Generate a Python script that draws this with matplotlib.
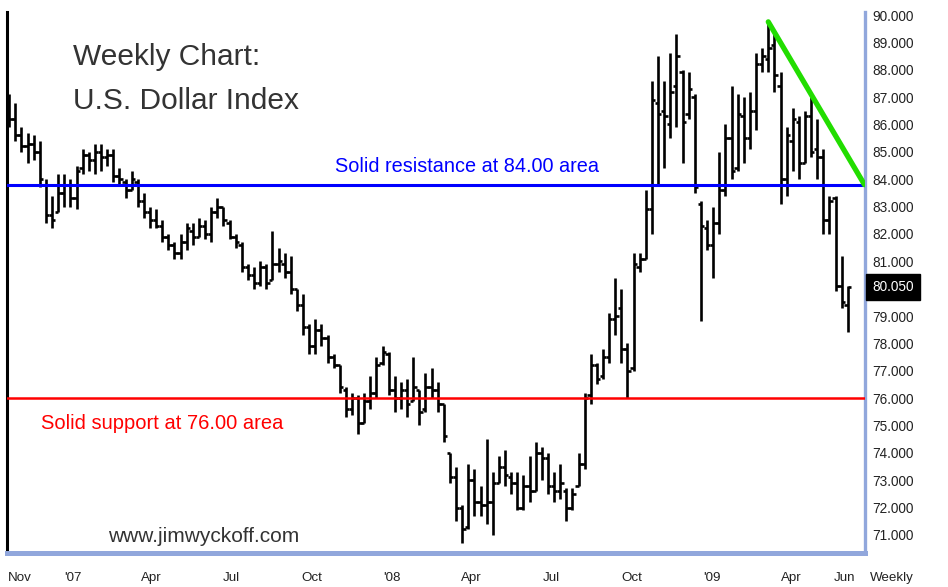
import numpy as np
import matplotlib.pyplot as plt

# weekly bars, first bar is the week of 20 Oct 2006
first_week = np.datetime64("2006-10-20")

opens = [86.9, 86.2, 85.6, 85.2, 85.3, 85.0, 83.8, 82.7, 82.8, 83.5,
         83.8, 83.3, 84.4, 84.9, 84.7, 85.0, 84.8, 84.9, 84.1, 83.9,
         83.6, 83.9, 83.2, 82.8, 82.5, 82.3, 81.9, 81.6, 81.3, 81.7,
         82.1, 81.9, 82.3, 82.0, 82.8, 83.0, 82.4, 81.9, 81.6, 80.8,
         80.5, 80.2, 80.8, 80.3, 80.9, 80.9, 80.6, 80.0, 79.4, 78.6,
         77.9, 78.5, 78.2, 77.5, 77.2, 76.3, 75.6, 76.0, 75.1, 75.9,
         76.2, 77.3, 77.6, 76.3, 76.0, 76.3, 75.9, 76.3, 75.6, 76.4,
         76.3, 75.8, 74.0, 73.1, 72.0, 71.3, 73.0, 72.2, 72.1, 72.2,
         72.9, 73.5, 73.1, 72.9, 72.0, 72.8, 72.6, 74.0, 73.8, 72.8,
         72.6, 72.6, 72.0, 72.8, 73.6, 76.1, 77.2, 76.8, 77.5, 78.9,
         79.3, 77.8, 77.1, 80.8, 81.1, 82.9, 86.8, 86.5, 86.0, 87.4,
         87.9, 86.4, 87.0, 83.1, 82.2, 81.6, 82.4, 83.6, 85.5, 84.4,
         86.3, 85.5, 86.5, 88.2, 88.4, 88.9, 87.4, 84.0, 85.4, 86.1,
         84.6, 86.3, 85.1, 84.8, 82.5, 83.3, 80.1, 79.4]
highs = [87.1, 86.8, 85.9, 85.7, 85.6, 85.4, 84.0, 83.4, 84.2, 84.2,
         84.0, 84.5, 85.1, 85.0, 85.3, 85.3, 85.1, 85.1, 84.4, 84.0,
         84.3, 84.0, 83.5, 83.0, 82.9, 82.5, 82.0, 81.7, 82.0, 82.4,
         82.4, 82.6, 82.5, 83.0, 83.3, 83.0, 82.5, 82.0, 81.7, 80.9,
         80.8, 81.0, 80.9, 82.1, 81.5, 81.3, 81.2, 80.0, 79.8, 78.7,
         78.9, 78.7, 78.3, 77.6, 77.2, 76.4, 76.2, 76.1, 76.2, 76.8,
         77.5, 77.9, 77.7, 76.8, 76.6, 76.7, 77.5, 76.3, 76.9, 77.1,
         76.6, 75.8, 74.0, 73.5, 72.1, 73.6, 73.4, 72.8, 74.5, 73.3,
         73.9, 74.1, 73.3, 73.3, 73.2, 73.9, 74.4, 74.2, 74.0, 73.3,
         73.6, 72.7, 72.7, 74.0, 76.2, 77.6, 77.3, 77.8, 79.1, 80.4,
         80.0, 78.0, 81.3, 81.3, 83.6, 87.6, 88.5, 87.6, 88.6, 89.3,
         88.0, 87.9, 87.1, 83.2, 82.5, 83.0, 85.0, 86.0, 87.4, 87.1,
         87.0, 87.2, 88.6, 88.8, 89.7, 89.3, 87.9, 85.9, 86.6, 86.3,
         86.5, 87.0, 86.2, 85.1, 83.4, 83.4, 81.2, 80.1]
lows = [85.9, 85.4, 85.0, 84.6, 84.7, 83.7, 82.4, 82.2, 82.8, 83.0,
        83.0, 82.9, 84.2, 84.3, 84.2, 84.3, 84.5, 83.9, 83.8, 83.3,
        83.6, 83.0, 82.6, 82.2, 82.2, 81.7, 81.4, 81.1, 81.1, 81.4,
        81.6, 81.9, 81.8, 81.7, 82.6, 82.3, 81.8, 81.5, 80.6, 80.3,
        80.0, 80.1, 80.0, 80.3, 80.6, 80.4, 79.8, 79.2, 78.3, 77.6,
        77.6, 77.9, 77.3, 77.1, 76.2, 75.3, 75.4, 74.7, 75.1, 75.6,
        76.0, 77.2, 76.1, 75.5, 75.6, 75.3, 75.9, 75.0, 75.5, 76.0,
        75.5, 74.4, 72.9, 71.5, 70.7, 71.2, 71.7, 71.7, 71.4, 71.0,
        72.9, 72.8, 72.5, 71.9, 71.9, 72.2, 72.6, 73.0, 72.5, 72.2,
        72.3, 71.5, 71.9, 72.8, 73.4, 75.8, 76.5, 76.7, 77.3, 78.3,
        77.3, 76.0, 77.0, 80.6, 81.1, 82.0, 83.8, 84.4, 85.5, 85.9,
        84.6, 86.2, 83.5, 78.8, 81.4, 80.4, 82.0, 83.4, 84.0, 84.3,
        84.6, 85.1, 85.8, 87.9, 87.9, 87.2, 83.1, 83.4, 84.3, 84.0,
        84.6, 84.8, 84.0, 82.0, 82.0, 79.9, 79.3, 78.4]
closes = [86.2, 85.6, 85.2, 85.3, 85.0, 84.0, 82.7, 82.5, 83.5, 83.8,
          83.3, 84.3, 84.9, 84.7, 85.0, 84.8, 84.9, 84.1, 84.0, 83.6,
          84.0, 83.2, 82.8, 82.5, 82.3, 81.9, 81.6, 81.3, 81.7, 82.2,
          81.9, 82.3, 82.0, 82.8, 83.0, 82.5, 81.9, 81.7, 80.8, 80.5,
          80.2, 80.8, 80.2, 80.9, 81.0, 80.6, 80.0, 79.4, 78.6, 77.9,
          78.5, 78.2, 77.5, 77.2, 76.4, 75.6, 76.0, 75.1, 75.9, 76.2,
          77.2, 77.7, 76.3, 76.0, 76.3, 75.8, 76.4, 75.5, 76.4, 76.3,
          75.8, 74.6, 73.1, 72.0, 71.2, 73.0, 72.2, 72.1, 72.2, 72.9,
          73.5, 73.2, 72.9, 72.0, 72.8, 72.6, 74.0, 73.8, 72.8, 72.6,
          72.9, 72.0, 72.5, 73.6, 76.0, 77.2, 76.7, 77.5, 78.9, 79.0,
          77.8, 77.0, 80.9, 81.1, 82.9, 86.9, 86.4, 86.3, 87.2, 88.5,
          86.1, 87.3, 83.7, 82.3, 81.6, 82.4, 83.6, 85.5, 84.3, 86.4,
          85.5, 86.5, 88.2, 88.5, 88.8, 87.8, 84.0, 85.6, 86.2, 84.6,
          86.3, 85.0, 84.8, 82.5, 83.2, 80.1, 79.5, 80.05]

month_starts = ["2006-11-01", "2007-01-01", "2007-04-01", "2007-07-01",
                "2007-10-01", "2008-01-01", "2008-04-01", "2008-07-01",
                "2008-10-01", "2009-01-01", "2009-04-01", "2009-06-01"]
month_labels = ["Nov", "'07", "Apr", "Jul", "Oct", "'08", "Apr", "Jul",
                "Oct", "'09", "Apr", "Jun"]
price_ticks = [90, 89, 88, 87, 86, 85, 84, 83, 82, 81,
               79, 78, 77, 76, 75, 74, 73, 72, 71]

last_price = 80.05
resistance = 83.8
support = 76.0
trend_dates = ["2009-03-06", "2009-06-24"]
trend_values = [89.75, 83.8]


def week_pos(d):
    return (np.datetime64(d) - first_week).astype(int) / 7


plt.rcParams["font.family"] = ["Liberation Sans", "DejaVu Sans"]

fig = plt.figure(figsize=(9.48, 5.87), dpi=100, facecolor="white")
ax = fig.add_axes([7 / 948, 34 / 587, 858 / 948, 541 / 587])

x = np.arange(len(closes))
ax.vlines(x, lows, highs, color="black", lw=1.9, zorder=2)
ax.hlines(opens, x - 0.55, x, color="black", lw=1.9, zorder=2)
ax.hlines(closes, x, x + 0.55, color="black", lw=1.9, zorder=2)

ax.axhline(resistance, color="#0000ff", lw=2.2, zorder=3)
ax.axhline(support, color="#ff0000", lw=1.8, zorder=3)
ax.plot([week_pos(d) for d in trend_dates], trend_values,
        color="#22dd00", lw=3.8, solid_capstyle="round", zorder=4)

ax.set_xlim(-0.36, 139.8)
ax.set_ylim(70.34, 90.11)

ax.spines["top"].set_visible(False)
ax.spines["left"].set_color("black")
ax.spines["left"].set_linewidth(2.2)
ax.spines["right"].set_color("#91a7dc")
ax.spines["right"].set_linewidth(2.4)
ax.spines["bottom"].set_color("#91a7dc")
ax.spines["bottom"].set_linewidth(3.6)

ax.yaxis.tick_right()
ax.set_yticks(price_ticks)
ax.set_yticklabels([f"{p:.3f}" for p in price_ticks])
ax.tick_params(axis="y", length=0, pad=5.5, labelsize=9.8, labelcolor="#222222")
ax.set_xticks([week_pos(d) for d in month_starts])
ax.set_xticklabels(month_labels)
ax.tick_params(axis="x", length=0, pad=13.5, labelsize=9.6, labelcolor="#222222")

ax.annotate(f"{last_price:.3f}", xy=(1, last_price),
            xycoords=("axes fraction", "data"), xytext=(7, 0),
            textcoords="offset pixels", ha="left", va="center",
            color="white", fontsize=9.8,
            bbox=dict(boxstyle="square,pad=0.45", fc="black", ec="black"))

fig.text(892 / 948, 1 - 578 / 587, "Weekly", ha="center", va="center",
         fontsize=9.6, color="#222222")

ax.text(0.077, 0.916, "Weekly Chart:", transform=ax.transAxes,
        fontsize=21.5, color="#333333", va="center")
ax.text(0.077, 0.835, "U.S. Dollar Index", transform=ax.transAxes,
        fontsize=21.5, color="#333333", va="center")
ax.text(0.1177, 0.0296, "www.jimwyckoff.com", transform=ax.transAxes,
        fontsize=15, color="#333333", va="center")
ax.text(week_pos("2007-10-27"), 84.45, "Solid resistance at 84.00 area",
        fontsize=14.3, color="#0000ff", va="center")
ax.text(week_pos("2006-11-25"), 75.06, "Solid support at 76.00 area",
        fontsize=14.5, color="#ff0000", va="center")

plt.savefig("out.png", dpi=100, facecolor=fig.get_facecolor())
